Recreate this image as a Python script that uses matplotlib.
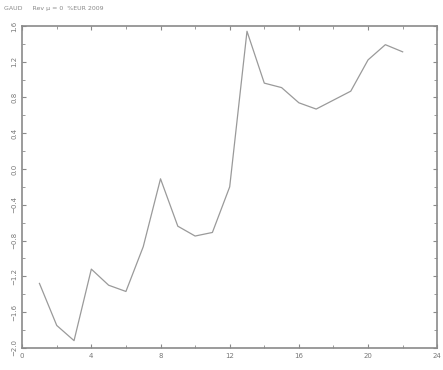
import matplotlib

matplotlib.use("Agg")
import matplotlib.pyplot as plt
from matplotlib.ticker import MultipleLocator

# values
months = list(range(1, 23))
values = [-1.28, -1.75, -1.92, -1.12, -1.30, -1.37, -0.87, -0.11, -0.64, -0.75, -0.71,
          -0.20, 1.54, 0.96, 0.91, 0.74, 0.67, 0.77, 0.87, 1.22, 1.39, 1.31]
title = "GAUD     Rev \u03bc = 0  %EUR 2009"

grey = "#8a8a8a"
fig = plt.figure(figsize=(4.43, 3.70), dpi=100)
ax = fig.add_axes([0.050, 0.060, 0.937, 0.870])
ax.plot(months, values, color="#9a9a9a", linewidth=0.9)

ax.set_xlim(0, 24)
ax.set_ylim(-2.0, 1.6)
ax.xaxis.set_major_locator(MultipleLocator(4))
ax.xaxis.set_minor_locator(MultipleLocator(2))
ax.yaxis.set_major_locator(MultipleLocator(0.4))
ax.yaxis.set_minor_locator(MultipleLocator(0.2))
ax.tick_params(which="both", direction="in", top=True, right=True, color=grey,
               labelcolor="#777777", labelsize=5)
ax.tick_params(which="major", length=3)
ax.tick_params(which="minor", length=2)
for lbl in ax.get_yticklabels():
    lbl.set_rotation(90)
    lbl.set_va("center")
for s in ax.spines.values():
    s.set_color(grey)
    s.set_linewidth(1.2)

fig.text(0.01, 0.985, title, fontsize=4.5, color="#888888", va="top", ha="left")
fig.savefig("out.png", dpi=100)
